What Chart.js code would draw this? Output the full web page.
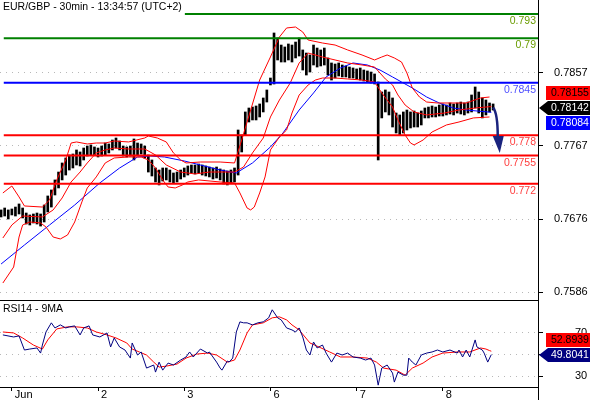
<!DOCTYPE html>
<html><head><meta charset="utf-8">
<script src="https://cdn.jsdelivr.net/npm/chart.js@4.4.1/dist/chart.umd.min.js"></script>
<style>
html,body{margin:0;padding:0;background:#fff;}
#wrap{position:relative;width:590px;height:400px;overflow:hidden;}
#c1{position:absolute;left:0;top:0;}
#c2{position:absolute;left:0;top:300px;}
</style></head><body>
<div id="wrap">
<canvas id="c1" width="590" height="300"></canvas>
<canvas id="c2" width="590" height="100"></canvas>
</div>
<script>
// ---------- DATA ----------
const chartTitle = 'EUR/GBP - 30min - 13:34:57 (UTC+2)';
const rsiTitle = 'RSI14 - 9MA';
const dayTickIndex = [0, 48, 96, 144, 192, 240];
const dayTickLabels = ['Jun', '2', '3', '6', '7', '8'];
const priceTicks = [0.7586, 0.7676, 0.7767, 0.7857];
const rsiTicks = [30, 50, 70];
const priceMin = 0.75762, priceMax = 0.79473;
const rsiMin = 20, rsiMax = 100;
const xMin = -6.6, xMax = 293;

// 30-min bars, every second bar (bar index starts at -6, step 2)
const barStart = -6, barStep = 2;
const highs = [
0.76876,0.76900,0.76876,0.76888,0.76912,0.76950,0.76900,0.76838,0.76814,0.76826,
0.76838,0.76826,0.76937,0.77049,0.77123,0.77247,0.77345,0.77457,0.77519,0.77556,
0.77568,0.77618,0.77593,0.77642,0.77667,0.77680,0.77655,0.77642,0.77667,0.77704,
0.77692,0.77741,0.77766,0.77729,0.77667,0.77655,0.77667,0.77754,0.77704,0.77692,
0.77667,0.77556,0.77494,0.77395,0.77370,0.77395,0.77395,0.77370,0.77333,0.77345,
0.77370,0.77395,0.77420,0.77432,0.77432,0.77444,0.77432,0.77420,0.77407,0.77395,
0.77407,0.77383,0.77370,0.77358,0.77370,0.77395,0.77865,0.77803,0.78088,0.78137,
0.78149,0.78162,0.78187,0.78261,0.78360,0.78508,0.79065,0.79003,0.78916,0.78892,
0.78929,0.78916,0.78953,0.79003,0.78855,0.78817,0.78793,0.78916,0.78879,0.78855,
0.78879,0.78756,0.78694,0.78681,0.78694,0.78669,0.78657,0.78644,0.78632,0.78620,
0.78632,0.78607,0.78595,0.78582,0.78558,0.78459,0.78335,0.78360,0.78335,0.78261,
0.78075,0.78051,0.78088,0.78112,0.78088,0.78100,0.78075,0.78100,0.78137,0.78149,
0.78162,0.78149,0.78174,0.78187,0.78174,0.78199,0.78187,0.78199,0.78211,0.78199,
0.78211,0.78298,0.78397,0.78335,0.78261,0.78236,0.78199,0.78187];
const lows = [
0.76789,0.76801,0.76764,0.76814,0.76801,0.76826,0.76777,0.76702,0.76690,0.76715,
0.76702,0.76677,0.76727,0.76851,0.76912,0.77061,0.77148,0.77247,0.77308,0.77370,
0.77395,0.77432,0.77420,0.77494,0.77543,0.77556,0.77556,0.77531,0.77543,0.77556,
0.77581,0.77618,0.77642,0.77618,0.77543,0.77531,0.77543,0.77494,0.77556,0.77568,
0.77519,0.77345,0.77296,0.77222,0.77185,0.77234,0.77247,0.77222,0.77210,0.77222,
0.77259,0.77284,0.77308,0.77333,0.77321,0.77333,0.77308,0.77296,0.77284,0.77259,
0.77271,0.77247,0.77197,0.77185,0.77210,0.77222,0.77308,0.77593,0.77803,0.77964,
0.77989,0.77989,0.78026,0.78088,0.78211,0.78422,0.78434,0.78731,0.78706,0.78706,
0.78731,0.78706,0.78756,0.78780,0.78607,0.78545,0.78582,0.78669,0.78644,0.78657,
0.78669,0.78545,0.78483,0.78508,0.78533,0.78521,0.78521,0.78508,0.78508,0.78496,
0.78483,0.78471,0.78459,0.78446,0.78434,0.77494,0.78014,0.78088,0.78051,0.77902,
0.77828,0.77803,0.77828,0.77865,0.77890,0.77902,0.77902,0.77927,0.78014,0.78014,
0.78026,0.78026,0.78038,0.78038,0.78051,0.78063,0.78051,0.78075,0.78063,0.78051,
0.78075,0.78088,0.78137,0.78075,0.78014,0.78051,0.78088,0.78112];

// Bollinger bands [bar index, price]
const bbUpper = [[-5,0.77086],[0,0.77172],[4,0.77037],[7,0.76925],[17,0.76912],[21,0.76999],[25,0.77247],[30,0.77494],[33,0.77704],[36,0.77717],[42,0.77692],[47,0.77704],[52,0.77704],[57,0.77729],[65,0.77717],[74,0.77766],[76,0.77791],[81,0.77766],[86,0.77717],[90,0.77581],[94,0.77494],[97,0.77457],[105,0.77469],[116,0.77469],[124,0.77457],[128,0.77741],[133,0.78112],[138,0.78483],[144,0.78768],[149,0.79015],[153,0.79127],[158,0.79139],[162,0.79077],[165,0.78978],[173,0.78941],[180,0.78916],[187,0.78855],[195,0.78793],[202,0.78731],[206,0.78768],[209,0.78793],[213,0.78756],[217,0.78706],[220,0.78570],[223,0.78385],[227,0.78273],[231,0.78211],[237,0.78199],[244,0.78199],[253,0.78199],[261,0.78261],[266,0.78273]];
const bbMiddle = [[-5,0.76529],[0,0.76690],[6,0.76801],[17,0.76789],[23,0.76876],[28,0.77024],[33,0.77222],[38,0.77345],[42,0.77457],[47,0.77581],[52,0.77618],[57,0.77642],[65,0.77630],[74,0.77630],[80,0.77556],[86,0.77432],[94,0.77345],[102,0.77321],[110,0.77345],[124,0.77345],[129,0.77407],[134,0.77581],[140,0.77766],[144,0.78026],[149,0.78236],[155,0.78446],[160,0.78694],[165,0.78817],[173,0.78768],[180,0.78731],[187,0.78694],[195,0.78669],[202,0.78644],[208,0.78496],[212,0.78422],[215,0.78298],[219,0.78174],[224,0.78088],[231,0.78051],[241,0.78075],[249,0.78112],[258,0.78137],[267,0.78155]];
const bbLower = [[-5,0.75972],[1,0.76170],[4,0.76541],[6,0.76690],[10,0.76727],[16,0.76715],[19,0.76665],[23,0.76541],[27,0.76517],[31,0.76566],[35,0.76727],[39,0.76975],[42,0.77148],[47,0.77284],[52,0.77457],[57,0.77519],[65,0.77531],[72,0.77531],[76,0.77494],[80,0.77395],[84,0.77247],[87,0.77160],[91,0.77148],[95,0.77185],[98,0.77222],[104,0.77247],[116,0.77222],[124,0.77210],[127,0.77086],[131,0.76900],[133,0.76876],[135,0.76912],[138,0.77086],[141,0.77284],[144,0.77618],[149,0.77778],[153,0.77865],[156,0.78075],[160,0.78298],[165,0.78422],[169,0.78483],[173,0.78508],[180,0.78508],[187,0.78496],[195,0.78483],[202,0.78459],[206,0.78323],[212,0.78149],[215,0.77989],[219,0.77803],[222,0.77704],[224,0.77680],[229,0.77741],[234,0.77840],[242,0.77927],[249,0.77964],[257,0.78014],[266,0.78026]];
// slow moving average [bar index, price]
const maLine = [[-6,0.76207],[7,0.76442],[21,0.76690],[35,0.76937],[49,0.77210],[60,0.77395],[70,0.77531],[77,0.77543],[85,0.77531],[96,0.77482],[105,0.77432],[116,0.77370],[125,0.77333],[134,0.77457],[144,0.77655],[151,0.77828],[160,0.78112],[168,0.78323],[175,0.78521],[183,0.78632],[190,0.78694],[198,0.78669],[205,0.78607],[212,0.78521],[217,0.78459],[223,0.78385],[231,0.78273],[238,0.78199],[246,0.78137],[253,0.78112],[267,0.78084]];

// RSI14 and its 9MA [bar index, value]
const rsi = [[-5,67.9],[1,66.0],[4,67.0],[7,54.0],[10,54.9],[14,55.9],[16,51.2],[17,58.6],[19,70.6],[22,79.0],[24,74.3],[27,77.1],[30,74.3],[32,75.3],[35,76.2],[38,67.9],[40,74.3],[43,76.2],[45,67.9],[49,66.0],[53,69.7],[55,56.8],[57,65.1],[60,56.8],[63,54.0],[66,46.6],[67,60.5],[70,49.4],[72,52.2],[75,37.4],[79,40.2],[80,33.7],[82,42.9],[84,35.5],[87,42.0],[90,40.2],[94,44.8],[97,47.6],[99,52.2],[101,47.6],[105,54.9],[109,51.2],[110,52.2],[114,42.9],[116,37.4],[117,35.5],[120,43.9],[121,42.9],[123,46.6],[125,70.6],[127,79.9],[129,79.0],[131,79.0],[134,77.1],[137,79.0],[140,79.9],[143,83.6],[145,91.0],[148,83.6],[150,81.7],[153,74.3],[156,72.5],[158,70.6],[160,74.3],[162,66.0],[164,54.0],[166,49.4],[168,61.4],[170,55.9],[173,58.6],[175,51.2],[178,42.9],[181,51.2],[184,49.4],[187,51.2],[190,47.6],[194,46.6],[197,44.8],[200,46.6],[202,40.2],[204,21.7],[206,37.4],[209,40.2],[212,32.8],[213,24.5],[215,33.7],[218,30.9],[220,30.9],[221,46.6],[223,42.9],[225,40.2],[228,49.4],[231,51.2],[234,52.2],[237,54.0],[240,52.2],[244,54.0],[248,51.2],[249,54.0],[251,47.6],[253,54.0],[255,47.6],[258,63.3],[259,56.8],[262,54.0],[263,51.2],[265,42.9],[267,49.8]];
const rsiMA = [[-5,70.6],[1,69.7],[6,65.1],[12,58.6],[17,54.9],[20,63.3],[25,73.4],[31,75.3],[36,75.3],[42,74.3],[47,70.6],[53,67.9],[58,65.1],[64,60.5],[67,54.9],[71,52.2],[75,49.4],[79,42.9],[82,38.3],[86,39.2],[92,41.1],[97,46.6],[103,50.3],[109,51.2],[114,49.4],[120,42.9],[124,44.8],[127,54.0],[131,69.7],[134,77.1],[140,79.0],[145,83.6],[149,84.5],[153,81.7],[156,77.1],[160,72.5],[166,60.5],[171,56.8],[177,52.2],[183,47.6],[190,47.6],[198,46.6],[203,42.9],[207,37.4],[214,35.5],[219,30.9],[223,37.4],[229,42.0],[234,47.6],[240,51.2],[248,52.2],[255,52.2],[261,55.9],[264,54.9],[266,53.5],[267,52.9]];

// horizontal levels
const levels = [0.793, 0.79, 0.7845, 0.778, 0.7755, 0.772];
const levelStart = -4.5;
// last values shown on right axis
const lastPrice = 0.78142, lastMiddle = 0.78155, lastMA = 0.78084;
const lastRsi = 49.8041, lastRsiMA = 52.8939;
const lastBarIndex = 268;
const arrowTip = [271.7, 0.77580];

// ---------- STYLE ----------
const FONT = 'Liberation Sans, Arial, sans-serif';
const levelLineColors = ['#008000','#008000','#0000ff','#ff0000','#ff0000','#ff0000'];
const levelTextColors = ['#6a9c00','#6a9c00','#4f4fff','#ff3c3c','#ff3c3c','#ff3c3c'];
Chart.defaults.font.family = FONT;
Chart.defaults.font.size = 11;
Chart.defaults.color = '#000';

const xy = pairs => pairs.map(p => ({x: p[0], y: p[1]}));
const bars = highs.map((h, k) => ({x: barStart + k * barStep, y: [lows[k], h]}));
const lineDs = (pairs, color, order) => ({type: 'line', data: xy(pairs), borderColor: color, borderWidth: 1, pointRadius: 0, tension: 0, order: order});
const noPad = s => { s.paddingTop = 0; s.paddingBottom = 0; s.paddingLeft = 0; s.paddingRight = 0; };

const overlayMain = {
  id: 'overlayMain',
  afterDatasetsDraw(chart) {
    const ctx = chart.ctx, ys = chart.scales.y, xs = chart.scales.x;
    const right = chart.chartArea.right;
    ctx.save();
    ctx.font = '10.5px ' + FONT;
    ctx.textAlign = 'right';
    ctx.textBaseline = 'top';
    levels.forEach((lv, k) => {
      ctx.fillStyle = levelTextColors[k];
      ctx.fillText(String(lv), right - 2, ys.getPixelForValue(lv) + 2);
    });
    // arrow
    const x0 = xs.getPixelForValue(lastBarIndex), y0 = ys.getPixelForValue(lastPrice);
    const x1 = xs.getPixelForValue(arrowTip[0]), y1 = ys.getPixelForValue(arrowTip[1]);
    ctx.strokeStyle = '#1a237e'; ctx.fillStyle = '#1a237e'; ctx.lineWidth = 2.5;
    ctx.beginPath(); ctx.moveTo(x0, y0); ctx.quadraticCurveTo(x1 - 2, y0 + 6, x1 - 2, y1 - 16); ctx.stroke();
    ctx.beginPath(); ctx.moveTo(x1 - 7, y1 - 17); ctx.lineTo(x1 + 4, y1 - 17); ctx.lineTo(x1, y1); ctx.closePath(); ctx.fill();
    ctx.restore();
  },
  afterDraw(chart) {
    const ctx = chart.ctx, ys = chart.scales.y;
    ctx.save();
    ctx.font = '10.5px ' + FONT;
    const tw = ctx.measureText(chartTitle).width;
    ctx.fillStyle = '#fff'; ctx.fillRect(0, 0, tw + 6, 15);
    ctx.fillStyle = '#000'; ctx.textBaseline = 'top'; ctx.textAlign = 'left';
    ctx.fillText(chartTitle, 3, 2);
    // value boxes
    const yb = Math.round(ys.getPixelForValue(lastPrice));
    const L = chart.chartArea.right;
    ctx.fillStyle = '#ff0000'; ctx.fillRect(L + 8, yb - 22, 60, 14);
    ctx.fillStyle = '#000';
    ctx.beginPath(); ctx.moveTo(L + 1, yb); ctx.lineTo(L + 10, yb - 7); ctx.lineTo(L + 60, yb - 7); ctx.lineTo(L + 60, yb + 7); ctx.lineTo(L + 10, yb + 7); ctx.closePath(); ctx.fill();
    ctx.fillStyle = '#0000ff'; ctx.fillRect(L + 8, yb + 8, 60, 14);
    ctx.font = '10.5px ' + FONT; ctx.textBaseline = 'middle';
    ctx.fillStyle = '#000'; ctx.fillText(lastMiddle.toFixed(5), L + 13, yb - 15);
    ctx.fillStyle = '#fff'; ctx.fillText(lastPrice.toFixed(5), L + 13, yb);
    ctx.fillText(lastMA.toFixed(5), L + 13, yb + 15);
    ctx.restore();
  }
};

const overlayRsi = {
  id: 'overlayRsi',
  afterDraw(chart) {
    const ctx = chart.ctx, ys = chart.scales.y, a = chart.chartArea;
    ctx.save();
    ctx.strokeStyle = '#000'; ctx.lineWidth = 1;
    ctx.beginPath(); ctx.moveTo(0, a.top + 0.5); ctx.lineTo(a.right, a.top + 0.5); ctx.stroke();
    ctx.beginPath(); ctx.moveTo(a.right + 0.5, a.bottom); ctx.lineTo(a.right + 0.5, chart.height); ctx.stroke();
    ctx.font = '10.5px ' + FONT; ctx.fillStyle = '#000'; ctx.textBaseline = 'top'; ctx.textAlign = 'left';
    ctx.fillText(rsiTitle, 3, a.top + 4);
    const yb = Math.round(ys.getPixelForValue(lastRsi));
    const L = a.right;
    ctx.fillStyle = '#ff0000'; ctx.fillRect(L + 8, yb - 22, 60, 14);
    ctx.fillStyle = '#000080';
    ctx.beginPath(); ctx.moveTo(L + 1, yb); ctx.lineTo(L + 10, yb - 7); ctx.lineTo(L + 60, yb - 7); ctx.lineTo(L + 60, yb + 7); ctx.lineTo(L + 10, yb + 7); ctx.closePath(); ctx.fill();
    ctx.font = '10.5px ' + FONT; ctx.textBaseline = 'middle';
    ctx.fillStyle = '#000'; ctx.fillText(lastRsiMA.toFixed(4), L + 13, yb - 15);
    ctx.fillStyle = '#fff'; ctx.fillText(lastRsi.toFixed(4), L + 13, yb);
    ctx.restore();
  }
};

const dotted = [1, 5];

new Chart(document.getElementById('c1'), {
  type: 'bar',
  data: {datasets: [
    {type: 'bar', data: bars, backgroundColor: '#000', borderWidth: 0, barThickness: 2, grouped: false, order: 10},
    lineDs(maLine, '#0000ff', 6),
    lineDs(bbLower, '#ff0000', 5),
    lineDs(bbMiddle, '#ff0000', 5),
    lineDs(bbUpper, '#ff0000', 5),
    ...levels.map((lv, k) => ({type: 'line', data: [{x: levelStart, y: lv}, {x: xMax, y: lv}], borderColor: levelLineColors[k], borderWidth: 2, pointRadius: 0, order: 1}))
  ]},
  options: {
    responsive: false, animation: false, devicePixelRatio: 1,
    layout: {padding: 0, autoPadding: false},
    plugins: {legend: {display: false}, tooltip: {enabled: false}},
    scales: {
      x: {type: 'linear', min: xMin, max: xMax, display: false, offset: false},
      y: {type: 'linear', position: 'right', min: priceMin, max: priceMax, beginAtZero: false,
        afterBuildTicks: s => { s.ticks = priceTicks.map(v => ({value: v})); },
        afterFit: s => { s.width = 52; noPad(s); },
        ticks: {callback: v => Number(v).toFixed(4), color: '#000', padding: 11, font: {size: 11}},
        grid: {color: '#b8b8b8', lineWidth: 1, tickColor: '#000', tickLength: 5},
        border: {display: true, color: '#000', width: 1, dash: dotted}
      }
    }
  },
  plugins: [overlayMain]
});

new Chart(document.getElementById('c2'), {
  type: 'line',
  data: {datasets: [
    lineDs(rsiMA, '#ff0000', 2),
    lineDs(rsi, '#000080', 1)
  ]},
  options: {
    responsive: false, animation: false, devicePixelRatio: 1,
    layout: {padding: 0, autoPadding: false},
    plugins: {legend: {display: false}, tooltip: {enabled: false}},
    scales: {
      x: {type: 'linear', position: 'bottom', min: xMin, max: xMax, offset: false,
        afterBuildTicks: s => { s.ticks = dayTickIndex.map(v => ({value: v})); },
        afterFit: s => { s.height = 13; noPad(s); },
        ticks: {callback: v => dayTickLabels[dayTickIndex.indexOf(v)], align: 'start', labelOffset: 3, maxRotation: 0, autoSkip: false, padding: -3, color: '#000', font: {size: 11}},
        grid: {drawOnChartArea: false, tickLength: 4, tickColor: '#000'},
        border: {display: true, color: '#000', width: 1}
      },
      y: {type: 'linear', position: 'right', min: rsiMin, max: rsiMax,
        afterBuildTicks: s => { s.ticks = rsiTicks.map(v => ({value: v})); },
        afterFit: s => { s.width = 52; noPad(s); },
        ticks: {color: '#000', padding: 32, font: {size: 11}},
        grid: {color: '#b8b8b8', lineWidth: 1, tickColor: '#000', tickLength: 5},
        border: {display: true, color: '#000', width: 1, dash: dotted}
      }
    }
  },
  plugins: [overlayRsi]
});
</script>
</body></html>
